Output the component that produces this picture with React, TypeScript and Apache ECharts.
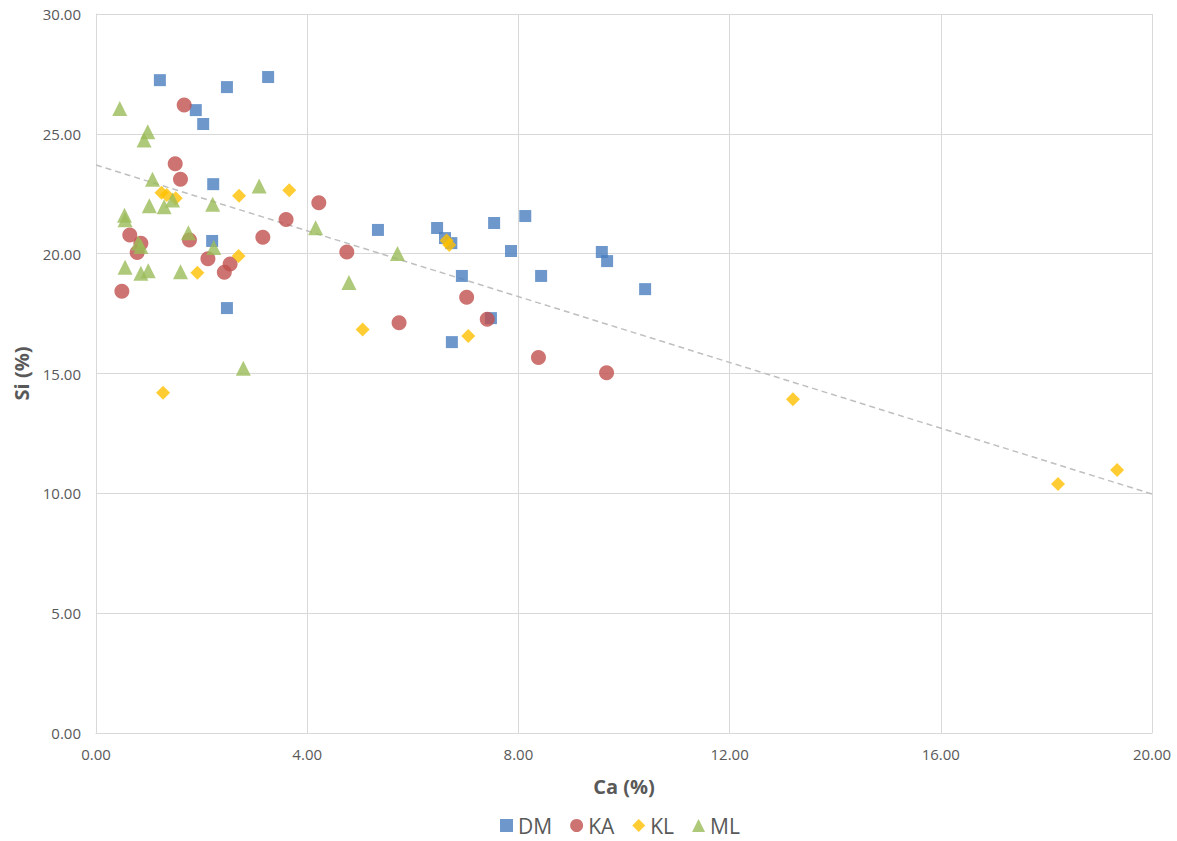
import React, { useEffect, useRef } from "react";
import * as echarts from "echarts";

const seriesNames = ["DM", "KA", "KL", "ML"];
const colors = ["#4A7EBF", "#C0504D", "#FFC000", "#9BBB59"];
const symbols = ["rect", "circle", "diamond", "triangle"];
const symbolSizes = [12, 15, 14, 15];

const dmData: number[][] = [
  [1.21, 27.24], [3.26, 27.37], [2.48, 26.95], [1.89, 25.99], [2.03, 25.41],
  [2.22, 22.90], [2.20, 20.53], [2.48, 17.73], [5.34, 20.99], [6.46, 21.07],
  [6.61, 20.65], [6.73, 20.44], [6.93, 19.07], [7.54, 21.28], [8.13, 21.57],
  [7.86, 20.11], [8.43, 19.07], [7.48, 17.31], [6.74, 16.31], [9.58, 20.07],
  [9.68, 19.69], [10.40, 18.52],
];
const kaData: number[][] = [
  [1.67, 26.20], [1.50, 23.75], [1.60, 23.11], [3.60, 21.43], [0.64, 20.78],
  [0.85, 20.43], [0.78, 20.05], [1.77, 20.57], [3.16, 20.68], [2.12, 19.79],
  [2.54, 19.57], [2.43, 19.22], [0.49, 18.43], [4.22, 22.12], [4.75, 20.07],
  [5.74, 17.12], [7.02, 18.18], [7.41, 17.26], [8.38, 15.67], [9.67, 15.03],
];
const klData: number[][] = [
  [1.24, 22.54], [1.34, 22.45], [1.51, 22.31], [2.71, 22.42], [3.66, 22.65],
  [2.70, 19.90], [1.92, 19.20], [1.27, 14.20], [6.64, 20.55], [6.69, 20.36],
  [5.05, 16.84], [7.05, 16.56], [13.20, 13.93], [18.22, 10.39], [19.34, 10.97],
];
const mlData: number[][] = [
  [0.45, 26.06], [0.98, 25.09], [0.91, 24.74], [1.07, 23.11], [3.09, 22.82],
  [1.01, 22.00], [1.29, 21.96], [1.45, 22.24], [2.21, 22.06], [0.54, 21.60],
  [0.55, 21.42], [1.75, 20.87], [0.80, 20.45], [0.85, 20.30], [2.23, 20.26],
  [0.55, 19.43], [0.85, 19.18], [0.99, 19.29], [1.60, 19.25], [2.79, 15.22],
  [4.16, 21.08], [5.71, 20.01], [4.79, 18.80],
];
const trendLine: number[][] = [[0, 23.70], [20, 9.97]];

const xTicks = { min: 0, max: 20, interval: 4 };
const yTicks = { min: 0, max: 30, interval: 5 };

const FONT = "'Open Sans', 'Noto Sans', sans-serif";

export default function App() {
  const ref = useRef<HTMLDivElement>(null);
  useEffect(() => {
    document.body.style.margin = "0";
    if (!ref.current) return;
    const chart = echarts.init(ref.current, undefined, { renderer: "svg" });
    const allData = [dmData, kaData, klData, mlData];
    const scatterSeries = seriesNames.map((name, i) => ({
      name,
      type: "scatter",
      data: allData[i],
      symbol: symbols[i],
      symbolSize: symbolSizes[i],
      itemStyle: { color: colors[i] },
      z: 3,
    }));
    chart.setOption({
      animation: false,
      textStyle: { fontFamily: FONT },
      grid: { left: 96, right: 25, top: 14, bottom: 108, containLabel: false },
      xAxis: {
        type: "value",
        min: xTicks.min,
        max: xTicks.max,
        interval: xTicks.interval,
        name: "Ca (%)",
        nameLocation: "middle",
        nameGap: 43,
        nameTextStyle: { fontSize: 20, fontWeight: "bold", color: "#595959", fontFamily: FONT },
        axisLine: { show: true, lineStyle: { color: "#D9D9D9" } },
        axisTick: { show: false },
        axisLabel: { formatter: (v: number) => v.toFixed(2), fontSize: 15, color: "#595959", margin: 13, fontFamily: FONT },
        splitLine: { show: true, lineStyle: { color: "#D9D9D9" } },
      },
      yAxis: {
        type: "value",
        min: yTicks.min,
        max: yTicks.max,
        interval: yTicks.interval,
        name: "Si (%)",
        nameLocation: "middle",
        nameGap: 62,
        nameRotate: 90,
        nameTextStyle: { fontSize: 20, fontWeight: "bold", color: "#595959", fontFamily: FONT },
        axisLine: { show: true, lineStyle: { color: "#D9D9D9" } },
        axisTick: { show: false },
        axisLabel: { formatter: (v: number) => v.toFixed(2), fontSize: 15, color: "#595959", margin: 15, fontFamily: FONT },
        splitLine: { show: true, lineStyle: { color: "#D9D9D9" } },
      },
      legend: {
        data: seriesNames.map((n, i) => ({ name: n, icon: symbols[i] })),
        bottom: 0,
        left: 495,
        itemWidth: 13,
        itemHeight: 13,
        itemGap: 18,
        textStyle: { fontSize: 21, color: "#595959", fontFamily: FONT },
      },
      series: [
        {
          name: "trend",
          type: "line",
          data: trendLine,
          symbol: "none",
          lineStyle: { color: "#BFBFBF", width: 1.5, type: [6, 4] },
          z: 2,
          silent: true,
        },
        ...scatterSeries,
      ],
    });
    return () => chart.dispose();
  }, []);
  return <div ref={ref} style={{ width: 1177, height: 841 }} />;
}
